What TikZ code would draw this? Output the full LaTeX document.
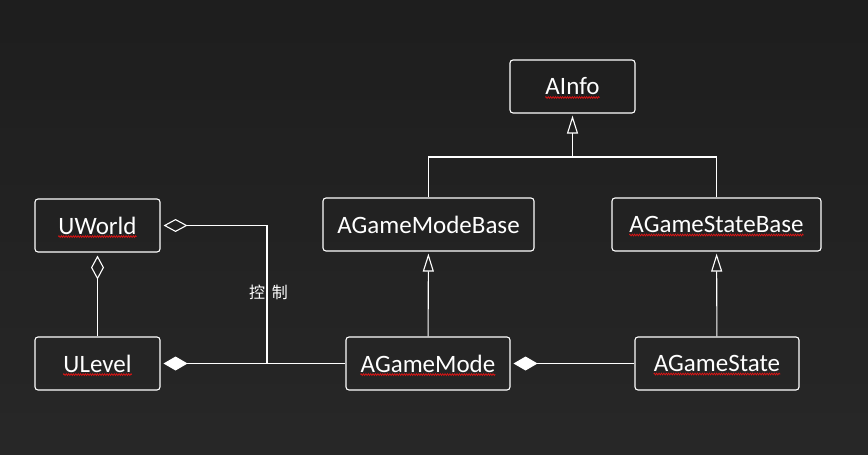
\documentclass[tikz,border=0pt]{standalone}
\usepackage{fontspec}
\setmainfont{Carlito}
\newfontfamily\cjk{Noto Sans CJK SC}
\usetikzlibrary{arrows.meta,decorations.pathmorphing}
\definecolor{board}{RGB}{30,30,30}
\definecolor{boardlight}{RGB}{46,46,46}
\definecolor{squigred}{RGB}{225,20,20}
\tikzset{
  box/.style={draw=white, line width=1.1pt, rounded corners=3pt, minimum height=53pt, inner sep=0pt},
  txt/.style={text=white, font=\fontsize{25}{28}\selectfont, inner sep=0pt},
  conn/.style={draw=white, line width=1.1pt},
  gen/.style={conn, -{Triangle[open, length=18pt, width=11pt, line width=1.1pt]}, shorten >=2pt},
  agg/.style={conn, -{Diamond[open, length=24pt, width=13pt, line width=1.1pt]}, shorten >=3pt},
  comp/.style={conn, -{Diamond[fill=white, length=24pt, width=14pt]}, shorten >=3pt},
  squig/.style={draw=squigred, line width=0.7pt, decorate, decoration={zigzag, amplitude=0.9pt, segment length=2.4pt}}
}
\newcommand{\squigunder}[1]{\draw[squig] ([yshift=-2.5pt]#1.base west) -- ([yshift=-2.5pt]#1.base east);}
\begin{document}
\begin{tikzpicture}[x=1pt, y=-1pt]
  \fill[board] (0,0) rectangle (868,455);
  \shade[top color=board, bottom color=boardlight, opacity=0.6] (0,0) rectangle (868,455);
  \useasboundingbox (0,0) rectangle (868,455);

  % boxes
  \node[box, minimum width=125pt] (ai)  at (572.5,86.5) {};
  \node[box, minimum width=211pt] (amb) at (428.5,224.5) {};
  \node[box, minimum width=209pt] (asb) at (716.5,224.5) {};
  \node[box, minimum width=125pt] (uw)  at (97.5,225.5) {};
  \node[box, minimum width=125pt] (ul)  at (97.5,363.5) {};
  \node[box, minimum width=164pt] (am)  at (428,363.5) {};
  \node[box, minimum width=164pt] (as)  at (717,363.5) {};

  % texts
  \node[txt] (ait)  at (ai)  {AInfo};
  \node[txt] (ambt) at (amb) {AGameModeBase};
  \node[txt] (asbt) at (asb) {AGameStateBase};
  \node[txt] (uwt)  at (uw)  {UWorld};
  \node[txt] (ult)  at (ul)  {ULevel};
  \node[txt] (amt)  at (am)  {AGameMode};
  \node[txt] (ast)  at (as)  {AGameState};

  % spell-check underlines
  \squigunder{ait}
  \squigunder{asbt}
  \squigunder{uwt}
  \squigunder{ult}
  \squigunder{amt}
  \squigunder{ast}

  % inheritance from AInfo
  \coordinate (j) at (572.5,157);
  \draw[conn] (amb.north) |- (j) -| (asb.north);
  \draw[gen] (j) -- (ai.south);
  \draw[gen] (am) -- (amb);
  \draw[gen] (as) -- (asb);

  % compositions
  \draw[comp] (as) -- (am);
  \draw[comp] (am) -- (ul);

  % aggregation
  \draw[agg] (ul) -- (uw);
  \coordinate (c1) at (267,363.5);
  \draw[agg] (c1) |- (uw.east);

  \node[text=white, font=\cjk\fontsize{16}{18}\selectfont, inner sep=0pt] (ctl) at (268.5,292) {控\hspace{7pt}制};
\end{tikzpicture}
\end{document}
